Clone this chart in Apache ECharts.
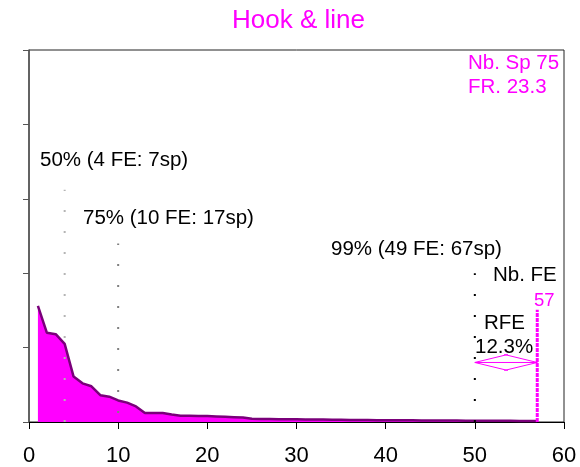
<!DOCTYPE html>
<html>
<head>
<meta charset="utf-8">
<script src="https://cdn.jsdelivr.net/npm/echarts@6/dist/echarts.min.js"></script>
<style>
  html, body { margin: 0; padding: 0; background: #fff; }
  #chart { width: 580px; height: 467px; }
</style>
</head>
<body>
<div id="chart"></div>
<script>
// Share of species (per functional entity), FEs ranked from most to least populated
const feShare = [
  15.6, 12.0, 11.8, 10.5, 6.1, 5.2, 4.8, 3.6, 3.4, 2.9,
  2.6, 2.1, 1.2, 1.2, 1.2, 1.0, 0.85, 0.85, 0.8, 0.8,
  0.75, 0.7, 0.65, 0.6, 0.45, 0.4, 0.4, 0.38, 0.36, 0.36,
  0.35, 0.34, 0.33, 0.31, 0.3, 0.28, 0.27, 0.26, 0.25, 0.24,
  0.23, 0.22, 0.22, 0.21, 0.2, 0.2, 0.19, 0.19, 0.18, 0.18,
  0.17, 0.17, 0.16, 0.16, 0.15, 0.15, 0.15
];
const feRank = feShare.map((v, i) => i + 1);

// Cut-off markers: FE rank and height of the marker line
const markerRank = [4, 10, 50, 57];
const markerTop  = [31.2, 24.0, 20.0, 15.1];

// Summary values
const nbFE = 57;
const nbSp = 75;
const funcRed = 23.3;
const rfe = 12.3;
const rfeLevel = 8.0;

const xTicks = [0, 10, 20, 30, 40, 50, 60];

const FONT = "'Liberation Sans', Arial, Helvetica, sans-serif";
const MAG = '#ff00ff';

const chart = echarts.init(document.getElementById('chart'), null, { renderer: 'canvas' });

const markerStyles = [
  { color: '#b4b4b4', width: 2, type: [2, 19], dashOffset: 0 },
  { color: '#808080', width: 2, type: [2, 19], dashOffset: 12 },
  { color: '#000000', width: 2, type: [2, 19], dashOffset: 0 },
  { color: MAG, width: 3, type: [4, 1], dashOffset: 0 }
];

const markerSeries = markerRank.map((r, i) => ({
  type: 'line',
  data: [[r, 0], [r, markerTop[i]]],
  symbol: 'none',
  silent: true,
  z: 5,
  lineStyle: {
    color: markerStyles[i].color,
    width: markerStyles[i].width,
    type: markerStyles[i].type,
    dashOffset: markerStyles[i].dashOffset
  }
}));

function txt(text, x, y, size, color) {
  return {
    type: 'text', x: x, y: y, z: 100,
    style: {
      text: text, fill: color || '#000', font: size + 'px ' + FONT,
      textAlign: 'left', textVerticalAlign: 'middle'
    }
  };
}

chart.setOption({
  animation: false,
  backgroundColor: '#fff',
  grid: {
    left: 29, right: 16, top: 50, bottom: 44,
    show: true, borderColor: '#222', borderWidth: 1, backgroundColor: 'transparent'
  },
  xAxis: {
    type: 'value', min: xTicks[0], max: xTicks[xTicks.length - 1], interval: 10,
    axisLine: { show: true, lineStyle: { color: '#000', width: 1 } },
    axisTick: { show: true, length: 7, lineStyle: { color: '#000' } },
    axisLabel: { fontSize: 22, color: '#000', fontFamily: FONT, margin: 23 },
    splitLine: { show: false }
  },
  yAxis: {
    type: 'value', min: 0, max: 50, interval: 10,
    axisLine: { show: true, lineStyle: { color: '#555', width: 1.5 } },
    axisTick: { show: true, length: 6, lineStyle: { color: '#555' } },
    axisLabel: { show: false },
    splitLine: { show: false }
  },
  series: [
    {
      type: 'line',
      data: feRank.map((r, i) => [r, feShare[i]]),
      symbol: 'none',
      z: 3,
      lineStyle: { color: '#7a007a', width: 2.5 },
      areaStyle: { color: MAG, opacity: 1 }
    },
    ...markerSeries,
    {
      type: 'custom',
      z: 6,
      silent: true,
      data: [[markerRank[2], rfeLevel, nbFE]],
      renderItem: function (params, api) {
        const a = api.coord([api.value(0), api.value(1)]);
        const b = api.coord([api.value(2), api.value(1)]);
        const L = 33, W = 8;
        const st = { stroke: MAG, lineWidth: 1, fill: null };
        return {
          type: 'group',
          children: [
            { type: 'line', shape: { x1: a[0], y1: a[1], x2: b[0], y2: b[1] }, style: st },
            { type: 'polyline', shape: { points: [[a[0] + L, a[1] - W], [a[0], a[1]], [a[0] + L, a[1] + W]] }, style: st },
            { type: 'polyline', shape: { points: [[b[0] - L, b[1] - W], [b[0], b[1]], [b[0] - L, b[1] + W]] }, style: st }
          ]
        };
      }
    }
  ],
  graphic: [
    txt('Hook & line', 232, 21, 26, MAG),
    txt('Nb. Sp ' + nbSp, 468, 63, 20.5, MAG),
    txt('FR. ' + funcRed, 468, 87, 20.5, MAG),
    txt('50% (4 FE: 7sp)', 40, 160, 20.5),
    txt('75% (10 FE: 17sp)', 83, 218, 20.5),
    txt('99% (49 FE: 67sp)', 331, 249, 20.5),
    txt('Nb. FE', 493, 275, 20.5),
    txt(String(nbFE), 534, 300.5, 18.5, MAG),
    txt('RFE', 484, 323, 20.5),
    txt(rfe + '%', 475, 347.5, 20.5)
  ]
});
</script>
</body>
</html>
